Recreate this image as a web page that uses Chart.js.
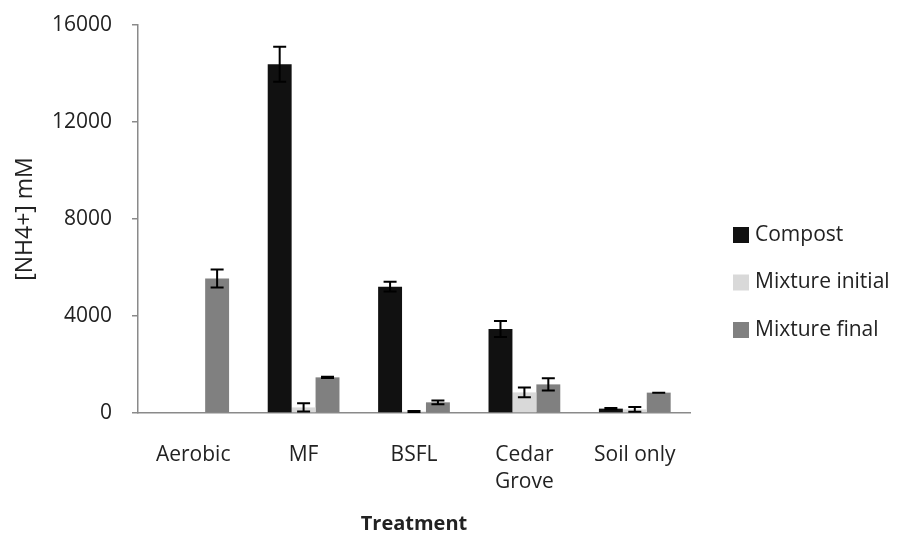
<!DOCTYPE html>
<html>
<head>
<meta charset="utf-8">
<script src="https://cdn.jsdelivr.net/npm/chart.js@4.4.1/dist/chart.umd.min.js"></script>
<style>
  html, body { margin: 0; padding: 0; background: #ffffff; }
  #wrap { width: 904px; height: 533px; position: relative; }
</style>
</head>
<body>
<div id="wrap"><canvas id="c" width="904" height="533"></canvas></div>
<script>
// ---- data ----
const categories = ['Aerobic', 'MF', 'BSFL', ['Cedar', 'Grove'], 'Soil only'];
const seriesNames = ['Compost', 'Mixture initial', 'Mixture final'];
const compost = [null, 14380, 5210, 3460, 180];
const compostErr = [null, 720, 200, 330, 30];
const mixtureInitial = [null, 230, 60, 850, 150];
const mixtureInitialErr = [null, 170, 20, 200, 100];
const mixtureFinal = [5550, 1470, 440, 1180, 840];
const mixtureFinalErr = [370, 30, 80, 250, 0];
const yTicks = [0, 4000, 8000, 12000, 16000];

const FONT = "'Open Sans', 'DejaVu Sans', sans-serif";
const colors = ['#111111', '#d9d9d9', '#808080'];

const errorBars = {
  id: 'errorBars',
  afterDatasetsDraw(chart) {
    const ctx = chart.ctx;
    const ys = chart.scales.y;
    ctx.save();
    ctx.strokeStyle = '#000000';
    ctx.lineWidth = 2;
    chart.data.datasets.forEach((ds, di) => {
      const meta = chart.getDatasetMeta(di);
      meta.data.forEach((bar, i) => {
        const v = ds.data[i];
        const e = ds.errors[i];
        if (v == null || e == null) return;
        const x = bar.x;
        const yt = ys.getPixelForValue(v + e);
        const yb = ys.getPixelForValue(Math.max(v - e, 0));
        const cap = 6.5;
        ctx.beginPath();
        ctx.moveTo(x, yt); ctx.lineTo(x, yb);
        ctx.moveTo(x - cap, yt); ctx.lineTo(x + cap, yt);
        ctx.moveTo(x - cap, yb); ctx.lineTo(x + cap, yb);
        ctx.stroke();
      });
    });
    ctx.restore();
  }
};

const sideLegend = {
  id: 'sideLegend',
  afterDraw(chart, args, opts) {
    const ctx = chart.ctx;
    ctx.save();
    ctx.font = '21px ' + FONT;
    ctx.textBaseline = 'middle';
    ctx.textAlign = 'left';
    chart.data.datasets.forEach((ds, i) => {
      const cy = opts.top + i * opts.step;
      ctx.fillStyle = ds.backgroundColor;
      ctx.fillRect(opts.left, cy - 8, 16, 16);
      ctx.fillStyle = '#222222';
      ctx.fillText(ds.label, opts.left + 22, cy);
    });
    ctx.restore();
  }
};

const datasets = [
  { label: seriesNames[0], data: compost, errors: compostErr, backgroundColor: colors[0] },
  { label: seriesNames[1], data: mixtureInitial, errors: mixtureInitialErr, backgroundColor: colors[1] },
  { label: seriesNames[2], data: mixtureFinal, errors: mixtureFinalErr, backgroundColor: colors[2] }
];

new Chart(document.getElementById('c'), {
  type: 'bar',
  data: { labels: categories, datasets: datasets },
  options: {
    responsive: false,
    animation: false,
    devicePixelRatio: 1,
    layout: { padding: { left: 0, top: 25, right: 214, bottom: 0 } },
    datasets: { bar: { categoryPercentage: 0.65, barPercentage: 1.0, borderWidth: 0 } },
    plugins: {
      legend: { display: false },
      tooltip: { enabled: false },
      sideLegend: { left: 733, top: 235, step: 47.5 }
    },
    scales: {
      x: {
        grid: { display: false, drawTicks: false },
        border: { display: true, color: '#8a8a8a', width: 1.5 },
        ticks: { color: '#222222', font: { family: FONT, size: 21, lineHeight: 1.3 }, padding: 28, maxRotation: 0, autoSkip: false },
        title: { display: true, text: 'Treatment', color: '#222222', font: { family: FONT, size: 20, weight: 'bold' }, padding: { top: 8, bottom: -3 } },
        afterFit(s) { s.height = 120; s.paddingLeft = 0; s.paddingRight = 0; }
      },
      y: {
        min: 0, max: 16000,
        afterBuildTicks(s) { s.ticks = yTicks.map(v => ({ value: v })); },
        grid: { display: true, drawOnChartArea: false, drawTicks: true, tickLength: 6, color: '#8a8a8a', lineWidth: 1.5 },
        border: { display: true, color: '#8a8a8a', width: 1.5 },
        ticks: { color: '#222222', font: { family: FONT, size: 21 }, padding: 20, callback: (v) => String(v) },
        title: { display: true, text: '[NH4+] mM', color: '#222222', font: { family: FONT, size: 23 }, padding: { top: 12, bottom: 0 } },
        afterFit(s) { s.width = 138; s.paddingTop = 0; s.paddingBottom = 0; }
      }
    }
  },
  plugins: [errorBars, sideLegend]
});
</script>
</body>
</html>
